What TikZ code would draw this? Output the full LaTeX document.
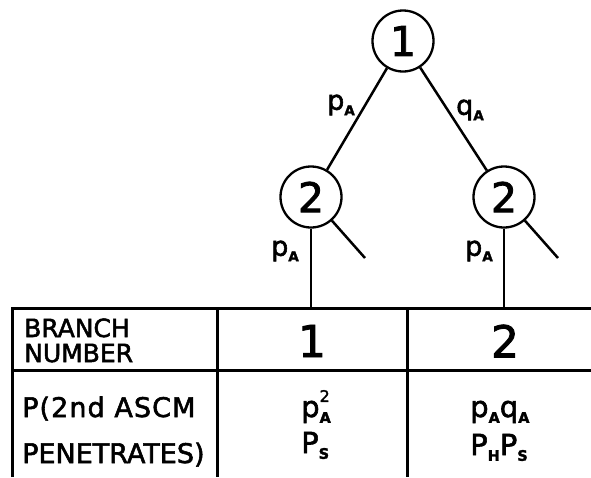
\documentclass[tikz,border=0pt]{standalone}
\usepackage{fontspec}
\setmainfont{DejaVu Sans}
% heavier lettering for every text of the figure
\newfontfamily\letterfont{DejaVu Sans}[FakeBold=2]
% the same lettering, slightly spaced out
\newfontfamily\spacedfont{DejaVu Sans}[FakeBold=2,LetterSpace=4]
% small bold index letters hanging at the foot of a symbol
\newcommand\lowidx[1]{\raisebox{-0.2em}{\scalebox{0.5}{\bfseries #1}}}
% small raised index sitting above a low index
\newcommand\upidx[1]{\rlap{\raisebox{0.52em}{\scalebox{0.55}{#1}}}}
\begin{document}
\begin{tikzpicture}[x=1pt,y=-1pt,
  treeline/.style={line width=2.5pt},
  gridline/.style={line width=3pt},
  decision/.style={circle,draw,line width=2.3pt,minimum size=61pt,inner sep=0pt,
    font=\letterfont\fontsize{41}{41}\selectfont},
  branchlbl/.style={inner sep=0pt,font=\letterfont\fontsize{27}{27}\selectfont},
  headtxt/.style={inner sep=0pt,anchor=base west,font=\letterfont\fontsize{25}{25}\selectfont},
  rowtxt/.style={inner sep=0pt,anchor=base west,font=\letterfont\fontsize{27}{27}\selectfont},
  bignum/.style={inner sep=0pt,font=\letterfont\fontsize{44}{44}\selectfont},
  formula/.style={inner sep=0pt,anchor=base west,font=\letterfont\fontsize{29}{29}\selectfont}]
\useasboundingbox (0,0) rectangle (591,477);

% decision tree
\node[decision] (top) at (403,41) {1};
\node[decision] (left) at (311,197) {2};
\node[decision] (right) at (504,197) {2};
\coordinate (leftstub) at (365,258);
\coordinate (rightstub) at (558,258);
\coordinate (leftfoot) at (311,308);
\coordinate (rightfoot) at (504,308);

\draw[treeline] (top) -- (left);
\draw[treeline] (top) -- (right);
\draw[treeline] (left) -- (leftstub);
\draw[treeline] (right) -- (rightstub);
\draw[treeline] (left.south) -- (leftfoot);
\draw[treeline] (right.south) -- (rightfoot);

\node[branchlbl] (lblpa) at (341,105) {p\lowidx{A}};
\node[branchlbl] (lblqa) at (470,110) {q\lowidx{A}};
\node[branchlbl] (lblpl) at (285,251) {p\lowidx{A}};
\node[branchlbl] (lblpr) at (479,251) {p\lowidx{A}};

% table
\coordinate (tl) at (12,308);
\coordinate (tr) at (591,308);
\coordinate (bl) at (12,477);
\coordinate (ml) at (12,370);
\coordinate (mr) at (591,370);
\coordinate (c1t) at (217,308);
\coordinate (c1b) at (217,477);
\coordinate (c2t) at (407,308);
\coordinate (c2b) at (407,477);
\draw[gridline] (bl) -- (tl) -- (tr);
\draw[gridline] (ml) -- (mr);
\draw[gridline] (c1t) -- (c1b);
\draw[gridline] (c2t) -- (c2b);

\node[headtxt] (h1) at (24,337) {BRANCH};
\node[headtxt] (h2) at (24,362) {NUMBER};
\node[bignum] (n1) at (312,341) {1};
\node[bignum] (n2) at (505,341) {2};

\node[rowtxt,font=\spacedfont\fontsize{27}{27}\selectfont] (r1) at (22,417) {P(2nd ASCM};
\node[rowtxt] (r2) at (22,463) {PENETRATES)};

\node[formula] (f1) at (301,417) {p\upidx{2}\lowidx{A}};
\node[formula] (f2) at (301,453) {P\lowidx{S}};
\node[formula] (f3) at (470,417) {p\lowidx{A}q\lowidx{A}};
\node[formula] (f4) at (470,455) {P\lowidx{H}P\lowidx{S}};
\end{tikzpicture}
\end{document}
